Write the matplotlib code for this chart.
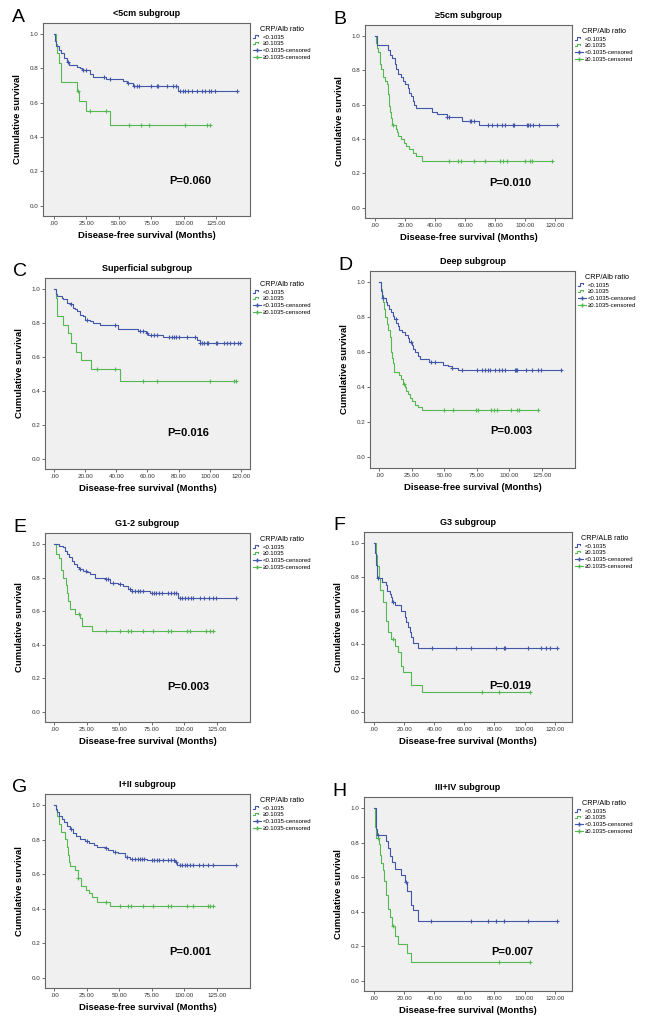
import numpy as np
import matplotlib.pyplot as plt
from matplotlib.lines import Line2D
from matplotlib.legend_handler import HandlerBase

plt.rcParams['font.family'] = ['Liberation Sans', 'DejaVu Sans']

BLUE = '#4357a8'
GREEN = '#55b853'

# ---- data (months, cumulative survival) ----
# A  <5cm
a_blue_t = [0, 1, 2, 4, 6, 8, 10, 12, 18, 20, 22, 28, 30, 40, 53, 56, 61, 95.5]
a_blue_s = [1.0, 0.96, 0.93, 0.91, 0.89, 0.86, 0.84, 0.82, 0.81, 0.80, 0.79, 0.77, 0.75, 0.74, 0.725, 0.715, 0.70, 0.67]
a_blue_c = [11, 22.5, 24.6, 39, 43.6, 57, 61.5, 64, 65.6, 75, 79, 80, 86.7, 91.8, 93.8, 97, 99, 101, 103, 106,
            110, 113.6, 116, 119, 121, 124, 140.5]
a_green_t = [0, 1.5, 2.5, 4, 5.4, 18.2, 19.5, 25, 43.6]
a_green_s = [1.0, 0.94, 0.89, 0.83, 0.72, 0.67, 0.61, 0.55, 0.47]
a_green_c = [18.8, 28, 40, 58, 67.4, 73.3, 101, 118, 120]

# B  >=5cm
b_blue_t = [0, 1, 8.4, 10, 11, 13, 14, 15.5, 17, 18.4, 20, 21.8, 22.7, 24, 25, 26, 27, 37.8, 41, 47.8, 57.8, 69]
b_blue_s = [1.0, 0.95, 0.92, 0.89, 0.87, 0.84, 0.81, 0.78, 0.76, 0.74, 0.72, 0.70, 0.67, 0.65, 0.62, 0.60, 0.58,
            0.56, 0.545, 0.527, 0.508, 0.485]
b_blue_c = [48, 49, 63, 64, 66, 75, 78, 81, 84.4, 86.7, 91.8, 92.5, 101, 102, 103, 105, 109, 120.7]
b_green_t = [0, 0.7, 1.5, 2.2, 3, 3.5, 4, 5, 5.5, 6.7, 7.8, 8.4, 9, 9.5, 10.2, 10.7, 11.5, 13.8, 14.7, 15.5,
             17.3, 19, 20.7, 22.7, 25, 27, 31]
b_green_s = [1.0, 0.96, 0.93, 0.91, 0.87, 0.84, 0.81, 0.78, 0.76, 0.74, 0.72, 0.66, 0.62, 0.59, 0.56, 0.52, 0.48,
             0.46, 0.44, 0.42, 0.40, 0.38, 0.36, 0.34, 0.32, 0.30, 0.275]
b_green_c = [12.2, 49, 55, 57, 65.5, 73, 83, 85, 88, 100, 103, 104.4, 118]

# C  superficial
c_blue_t = [0, 1, 2, 4.7, 5.8, 8, 10, 11.8, 13.5, 14.8, 16.5, 18.3, 20, 23, 25, 29.5, 41.3, 54.2, 59, 60.6,
            70.3, 91.8, 93.5]
c_blue_s = [1.0, 0.97, 0.96, 0.95, 0.94, 0.92, 0.91, 0.89, 0.88, 0.87, 0.85, 0.84, 0.82, 0.81, 0.80, 0.79, 0.765,
            0.75, 0.74, 0.73, 0.715, 0.70, 0.68]
c_blue_c = [11, 21, 39, 55, 57, 59.5, 62, 64, 66, 74, 76, 77, 78.5, 80, 85.4, 90.5, 94, 95, 96.5, 98, 99, 104,
            105, 109.5, 111, 113, 115.5, 118, 119.5]
c_green_t = [0, 1, 2, 5.4, 9, 10.5, 14, 17, 23.4, 42.4]
c_green_s = [1.0, 0.95, 0.84, 0.79, 0.74, 0.685, 0.63, 0.58, 0.53, 0.46]
c_green_c = [27.3, 39, 57, 66, 100, 115.5, 117]

# D  deep
d_blue_t = [0, 1.3, 1.8, 4.9, 6.2, 7.7, 9, 10.3, 11.5, 12.8, 14, 15, 17.2, 19.7, 21.8, 23, 25, 26, 27.4, 29.5,
            31, 38.2, 49.2, 52.5, 55.6, 60.3]
d_blue_s = [1.0, 0.95, 0.91, 0.89, 0.87, 0.85, 0.83, 0.81, 0.79, 0.77, 0.75, 0.73, 0.715, 0.70, 0.68, 0.66, 0.64,
            0.62, 0.60, 0.58, 0.56, 0.547, 0.53, 0.52, 0.51, 0.50]
d_blue_c = [2.5, 12.6, 24.4, 39.7, 42.8, 56, 63.8, 75, 78.7, 81, 83.3, 85, 89, 92, 94, 96.7, 104, 105, 106,
            112.6, 117.7, 122, 124, 140]
d_green_t = [0, 1, 1.8, 3, 3.8, 4.6, 5.6, 6.4, 8, 8.7, 9.2, 10, 10.8, 11.5, 15, 16.7, 18, 19.7, 20.5, 21.8,
             23.6, 25.4, 27.4, 30, 32.6]
d_green_s = [1.0, 0.96, 0.93, 0.89, 0.85, 0.80, 0.76, 0.73, 0.69, 0.64, 0.60, 0.57, 0.54, 0.49, 0.47, 0.45, 0.42,
             0.40, 0.38, 0.36, 0.34, 0.32, 0.30, 0.29, 0.274]
d_green_c = [19.2, 50, 56.7, 74, 75.6, 86, 88, 90.5, 101, 106, 107.4, 121.8]

# E  G1-2
e_blue_t = [0, 3.8, 6.4, 8, 9.5, 11.5, 13.3, 15, 17.2, 19.2, 22.3, 25, 27.4, 31.3, 39, 42.8, 49, 53, 57, 59.5,
            73.6, 95.4]
e_blue_s = [1.0, 0.99, 0.98, 0.96, 0.94, 0.92, 0.90, 0.88, 0.86, 0.85, 0.84, 0.83, 0.82, 0.80, 0.79, 0.77, 0.76,
            0.75, 0.73, 0.72, 0.705, 0.68]
e_blue_c = [20, 24.4, 39.7, 41, 45, 50.5, 58, 60, 62, 64, 66, 68.5, 75, 76.7, 78.5, 80.8, 82.6, 87.7, 90, 92,
            93.6, 96.7, 98.5, 100.5, 103, 105, 107, 112, 115, 119, 122, 124, 140]
e_green_t = [0, 1.3, 3.8, 4.9, 6.4, 9, 10, 10.8, 12, 16, 19.7, 21, 28.7]
e_green_s = [1.0, 0.94, 0.917, 0.843, 0.80, 0.754, 0.71, 0.66, 0.61, 0.583, 0.557, 0.512, 0.482]
e_green_c = [19, 40, 50.8, 57, 59, 68, 75.6, 87.7, 90, 101.8, 104, 117, 120, 122]

# F  G3
f_blue_t = [0, 0.9, 1.6, 2.2, 5.3, 7.6, 8.9, 10.4, 11.1, 12, 14.2, 17.8, 20.4, 21.3, 22.7, 23.8, 24.4, 26, 29.3]
f_blue_s = [1.0, 0.94, 0.867, 0.79, 0.77, 0.75, 0.716, 0.70, 0.68, 0.652, 0.632, 0.60, 0.56, 0.532, 0.50, 0.47,
            0.442, 0.41, 0.378]
f_blue_c = [2.7, 12.7, 38.2, 54.2, 64.2, 80.9, 86.2, 86.7, 102, 111, 114, 117, 121.3]
f_green_t = [0, 1.1, 2.2, 3.3, 4.2, 6.2, 8.2, 9.3, 11.1, 14.2, 15.6, 17.8, 19.3, 24.4, 31.6]
f_green_s = [1.0, 0.93, 0.863, 0.79, 0.72, 0.652, 0.54, 0.47, 0.43, 0.391, 0.352, 0.27, 0.237, 0.159, 0.117]
f_green_c = [12.7, 71.6, 83, 103.8]

# G  I+II
g_blue_t = [0, 1.3, 2.3, 3.8, 5.6, 7.4, 9.5, 12, 14.1, 16.7, 19.7, 23.6, 27, 30.5, 32.6, 39.7, 41.5, 45.4, 49.2,
            54.4, 58.2, 71, 92.8, 94.6]
g_blue_s = [1.0, 0.98, 0.96, 0.94, 0.92, 0.90, 0.88, 0.86, 0.84, 0.82, 0.805, 0.79, 0.78, 0.77, 0.76, 0.75, 0.74,
            0.73, 0.72, 0.70, 0.69, 0.68, 0.67, 0.655]
g_blue_c = [12.8, 25.4, 39.9, 46.7, 56, 59.5, 62, 64, 66, 67.5, 69, 75, 76.7, 78.7, 80.5, 83.3, 87.7, 90, 92,
            93.6, 96.7, 98.5, 100.5, 102, 104, 106.4, 111.5, 114, 118.5, 122, 140]
g_green_t = [0, 1.3, 2.3, 3.8, 4.9, 8.2, 9.5, 10.3, 11, 12, 15.9, 18, 20.3, 24.4, 27, 28.7, 32.6, 42.8]
g_green_s = [1.0, 0.973, 0.94, 0.89, 0.843, 0.805, 0.76, 0.713, 0.67, 0.65, 0.623, 0.575, 0.533, 0.508, 0.49,
             0.47, 0.44, 0.418]
g_green_c = [18.5, 39.7, 50.5, 57, 58.7, 68, 75.6, 87.7, 90, 101.8, 107, 118.5, 120, 122]

# H  III+IV
h_blue_t = [0, 1.6, 2.2, 8.2, 9.3, 10.4, 12, 13.8, 17.8, 20.4, 22.2, 24.4, 26, 29.3]
h_blue_s = [1.0, 0.88, 0.846, 0.81, 0.77, 0.724, 0.686, 0.648, 0.61, 0.57, 0.522, 0.438, 0.408, 0.347]
h_blue_c = [2.5, 21.5, 37.8, 64.4, 76, 81, 86.4, 102, 121.3]
h_green_t = [0, 0.9, 1.6, 3.1, 3.8, 4.9, 5.6, 6.7, 8.2, 9.3, 10.4, 11.6, 14.2, 15.6, 21.6, 24.4]
h_green_s = [1.0, 0.89, 0.83, 0.79, 0.728, 0.68, 0.642, 0.579, 0.495, 0.413, 0.37, 0.318, 0.26, 0.213, 0.162,
             0.108]
h_green_c = [2.7, 12.7, 83, 103.8]

letters = ['A', 'B', 'C', 'D', 'E', 'F', 'G', 'H']
titles = ['<5cm subgroup', '\u22655cm subgroup', 'Superficial subgroup', 'Deep subgroup',
          'G1-2 subgroup', 'G3 subgroup', 'I+II subgroup', 'III+IV subgroup']
p_values = ['P=0.060', 'P=0.010', 'P=0.016', 'P=0.003', 'P=0.003', 'P=0.019', 'P=0.001', 'P=0.007']
legend_titles = ['CRP/Alb ratio'] * 5 + ['CRP/ALB ratio'] + ['CRP/Alb ratio'] * 2
legend_labels = ['<0.1035', '\u22650.1035', '<0.1035-censored', '\u22650.1035-censored']
tick_steps = [25, 20, 20, 25, 25, 20, 25, 20]

curves = [
    (a_blue_t, a_blue_s, a_blue_c, a_green_t, a_green_s, a_green_c),
    (b_blue_t, b_blue_s, b_blue_c, b_green_t, b_green_s, b_green_c),
    (c_blue_t, c_blue_s, c_blue_c, c_green_t, c_green_s, c_green_c),
    (d_blue_t, d_blue_s, d_blue_c, d_green_t, d_green_s, d_green_c),
    (e_blue_t, e_blue_s, e_blue_c, e_green_t, e_green_s, e_green_c),
    (f_blue_t, f_blue_s, f_blue_c, f_green_t, f_green_s, f_green_c),
    (g_blue_t, g_blue_s, g_blue_c, g_green_t, g_green_s, g_green_c),
    (h_blue_t, h_blue_s, h_blue_c, h_green_t, h_green_s, h_green_c),
]

# layout in pixels of the 650x1024 picture: left, top, right, bottom of the plot box
boxes = [(43, 23, 250, 216), (365, 25, 572, 218), (45, 278, 250, 469), (370, 271, 575, 468),
         (45, 533, 250, 722), (364, 532, 572, 722), (45, 794, 250, 988), (364, 797, 572, 991)]
xlims = [(-8.2, 150.8), (-6.7, 131), (-6, 126), (-7.2, 150.5),
         (-7.2, 150.5), (-6.7, 131.5), (-7.2, 150.5), (-6.7, 131.5)]
p_pos = [(104.6, 0.144), (90, 0.145), (86.5, 0.154), (101.8, 0.15),
         (103, 0.148), (90.4, 0.153), (104.4, 0.149), (91.6, 0.166)]

W, H = 650, 1024
fig = plt.figure(figsize=(6.5, 10.24), dpi=100)


class StepHandler(HandlerBase):
    # little step glyph like the SPSS legend
    def create_artists(self, legend, orig, xd, yd, w, h, fontsize, trans):
        x = [-xd, -xd + 0.25 * w, -xd + 0.25 * w, -xd + 0.6 * w, -xd + 0.6 * w]
        y = [0.2 * h, 0.2 * h, 0.85 * h, 0.85 * h, 0.55 * h]
        ln = Line2D(x, y, color=orig.get_color(), lw=0.8, transform=trans)
        return [ln]


def surv_at(t, times, surv):
    i = np.searchsorted(times, t, side='right') - 1
    return surv[i]


def draw_curve(ax, times, surv, cens, color):
    tend = max(max(cens), times[-1])
    ax.step(list(times) + [tend], list(surv) + [surv[-1]], where='post', color=color, lw=0.8)
    cy = [surv_at(c, times, surv) for c in cens]
    ax.plot(cens, cy, '+', color=color, ms=3.5, mew=0.8)


for i in range(8):
    l, t, r, b = boxes[i]
    ax = fig.add_axes([l / W, 1 - b / H, (r - l) / W, (b - t) / H])
    ax.set_facecolor('#f0f0f0')
    bt, bs, bc, gt, gs, gc = curves[i]
    draw_curve(ax, gt, gs, gc, GREEN)
    draw_curve(ax, bt, bs, bc, BLUE)
    ax.set_xlim(*xlims[i])
    ax.set_ylim(-0.06, 1.065)
    step = tick_steps[i]
    xt = np.arange(0, 126, step)
    ax.set_xticks(xt)
    ax.set_xticklabels(['.00' if v == 0 else '%.2f' % v for v in xt], fontsize=4.5)
    yt = np.arange(0, 1.01, 0.2)
    ax.set_yticks(yt)
    ax.set_yticklabels(['%.1f' % v for v in yt], fontsize=4.5)
    ax.tick_params(length=2, width=0.5, pad=1.5, colors='#333333')
    for sp in ax.spines.values():
        sp.set_color('#666666')
        sp.set_linewidth(0.8)
    ax.set_xlabel('Disease-free survival (Months)', fontsize=6.8, fontweight='bold', labelpad=4)
    ax.set_ylabel('Cumulative survival', fontsize=6.8, fontweight='bold', labelpad=5)
    ax.set_title(titles[i], fontsize=6.5, fontweight='bold', pad=5)
    ax.text(p_pos[i][0], p_pos[i][1], p_values[i], fontsize=8, fontweight='bold',
            ha='center', va='center')
    fig.text((l - 25) / W, 1 - (t - 6) / H, letters[i], fontsize=14, ha='center', va='center')

    line_b = Line2D([], [], color=BLUE, lw=0.8)
    line_g = Line2D([], [], color=GREEN, lw=0.8)
    handles = [line_b, line_g,
               Line2D([], [], color=BLUE, lw=0.8, marker='+', ms=3.5),
               Line2D([], [], color=GREEN, lw=0.8, marker='+', ms=3.5)]
    leg = ax.legend(handles, legend_labels, loc='upper left', bbox_to_anchor=(1.0, 1.0),
                    title=legend_titles[i], fontsize=4.3, title_fontsize=5.2, frameon=False,
                    handlelength=1.4, handletextpad=0.3, labelspacing=0.25, borderaxespad=0.3,
                    borderpad=0.2, handler_map={line_b: StepHandler(), line_g: StepHandler()})

fig.savefig('out.png', dpi=100)
